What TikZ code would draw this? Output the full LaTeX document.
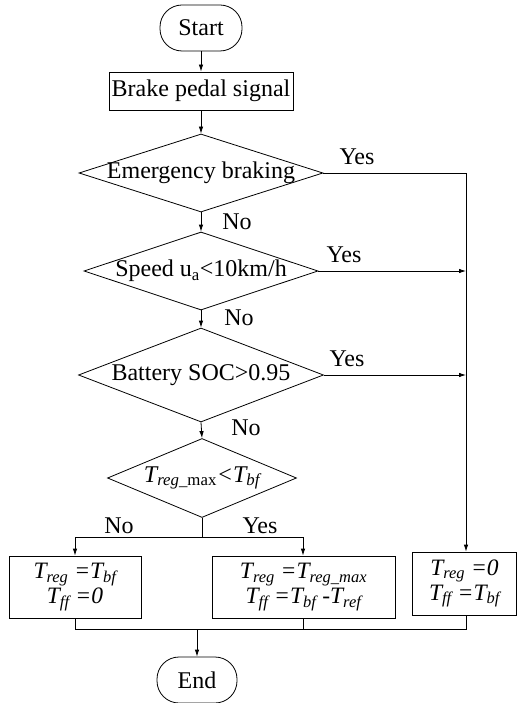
\documentclass[tikz,border=0pt]{standalone}
\usepackage{fontspec}
\setmainfont{Liberation Serif}
\usetikzlibrary{shapes.geometric,arrows.meta}
\begin{document}
\begin{tikzpicture}[x=1pt,y=-1pt, font=\fontsize{24}{29}\selectfont, line width=0.8pt,
 box/.style={draw, rectangle, inner sep=0pt, align=center},
 term/.style={draw, rectangle, rounded corners=22pt, inner sep=0pt},
 dec/.style={draw, diamond, inner sep=0pt},
 arr/.style={-{Latex[length=7pt,width=4.5pt]}},
 lbl/.style={inner sep=0pt},
 formula/.style={font=\fontsize{23.5}{25}\selectfont\itshape}]
\useasboundingbox (0,0) rectangle (517,703);
% nodes
\node[term, minimum width=82pt, minimum height=46pt] (start) at (201,28) {Start};
\node[box, minimum width=184pt, minimum height=38pt] (brake) at (201,91) {Brake pedal signal};
\node[dec, minimum width=244pt, minimum height=78pt, label=center:{Emergency braking}] (emg) at (201,173) {};
\node[dec, minimum width=234pt, minimum height=78pt, label=center:{Speed u\textsubscript{a}<10km/h}] (spd) at (201,271) {};
\node[dec, minimum width=245pt, minimum height=94pt, label=center:{Battery SOC>0.95}] (bat) at (201,375) {};
\node[dec, minimum width=189pt, minimum height=79pt, label=center:{\itshape T\textsubscript{reg\_\upshape max}<T\textsubscript{bf}}] (tbf) at (202,478) {};
\node[box, formula, minimum width=132pt, minimum height=62pt] (lbox) at (75,587) {T\textsubscript{reg} =T\textsubscript{bf}\\T\textsubscript{ff} =0};
\node[box, formula, minimum width=183pt, minimum height=62pt] (mbox) at (303.5,587) {T\textsubscript{reg} =T\textsubscript{reg\_max}\\T\textsubscript{ff} =T\textsubscript{bf} -T\textsubscript{ref}};
\node[box, formula, minimum width=104.5pt, minimum height=63pt] (rbox) at (464.5,583.5) {T\textsubscript{reg} =0\\T\textsubscript{ff} =T\textsubscript{bf}};
\node[term, minimum width=80pt, minimum height=46pt] (end) at (197,680) {End};
% junction coordinates
\coordinate (rcorner) at (466,173);
\coordinate (rspd) at (466,271);
\coordinate (rbat) at (466,375);
\coordinate (split) at (202,537);
\coordinate (splitL) at (75,537);
\coordinate (splitR) at (303,537);
\coordinate (jL) at (75,629);
\coordinate (jM) at (303,629);
\coordinate (jR) at (466,629);
\coordinate (jE) at (197,629);
% connectors
\draw[arr] (start) -- (brake);
\draw[arr] (brake) -- (emg.north);
\draw[arr] (emg.south) -- (spd.north);
\draw[arr] (spd.south) -- (bat.north);
\draw[arr] (bat.south) -- (tbf.north);
\draw[arr] (emg.east) -- (rcorner) -- (rbox.north -| rcorner);
\draw[arr] (spd.east) -- (rspd);
\draw[arr] (bat.east) -- (rbat);
\draw (tbf.south) -- (split);
\draw[arr] (split) -- (splitL) -- (lbox.north -| splitL);
\draw[arr] (split) -- (splitR) -- (mbox.north -| splitR);
\draw (lbox.south -| jL) -- (jL) -- (jR) -- (rbox.south -| jR);
\draw (mbox.south -| jM) -- (jM);
\draw[arr] (jE) -- (end.north);
% labels
\node[lbl] (y1) at (357,157) {Yes};
\node[lbl] (n1) at (237,222) {No};
\node[lbl] (y2) at (344,255) {Yes};
\node[lbl] (n2) at (239,318) {No};
\node[lbl] (y3) at (347,359) {Yes};
\node[lbl] (n3) at (246,428) {No};
\node[lbl] (n4) at (119,526) {No};
\node[lbl] (y4) at (260,526) {Yes};
\end{tikzpicture}
\end{document}
